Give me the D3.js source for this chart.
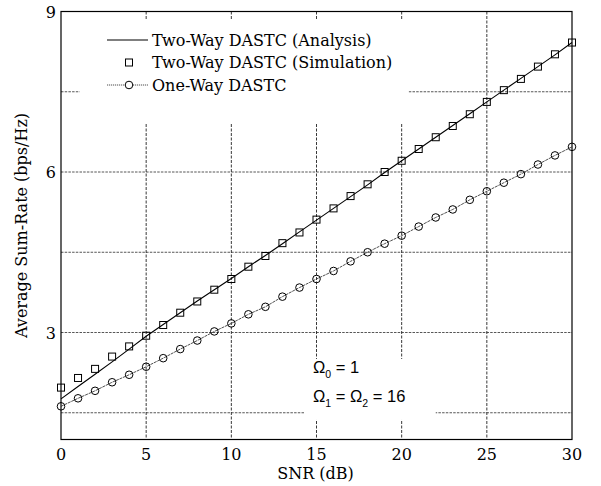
<!DOCTYPE html>
<html>
<head>
	<title>Average Sum-Rate</title>
	<script src="https://cdn.jsdelivr.net/npm/d3@7"></script>
	<style type="text/css">
		body { margin: 0; background: white; }
		.serif { font-family: 'DejaVu Serif', 'Liberation Serif', serif; }
	</style>
</head>
<body>

	<svg width=601 height=486 class="chart"></svg>

	<script type="text/javascript">

		// SNR in dB, one point per dB
		snr = d3.range(0, 31)

		twoWayAnalysis = [1.76, 1.99, 2.22, 2.45, 2.69, 2.93, 3.15, 3.37, 3.59, 3.80, 4.01,
			4.23, 4.44, 4.66, 4.88, 5.10, 5.32, 5.54, 5.76, 5.99, 6.21,
			6.43, 6.65, 6.87, 7.09, 7.31, 7.53, 7.75, 7.97, 8.19, 8.42]

		twoWaySim = [1.97, 2.15, 2.32, 2.55, 2.74, 2.94, 3.14, 3.37, 3.58, 3.80, 4.00,
			4.23, 4.43, 4.67, 4.87, 5.11, 5.32, 5.55, 5.77, 6.00, 6.21,
			6.43, 6.65, 6.86, 7.08, 7.31, 7.53, 7.74, 7.97, 8.20, 8.42]

		oneWay = [1.62, 1.77, 1.91, 2.07, 2.21, 2.36, 2.52, 2.69, 2.85, 3.02, 3.17,
			3.34, 3.48, 3.67, 3.84, 4.00, 4.15, 4.33, 4.50, 4.66, 4.81,
			4.98, 5.15, 5.30, 5.48, 5.64, 5.80, 5.96, 6.14, 6.31, 6.47]

		xTicks = [0, 5, 10, 15, 20, 25, 30]
		yTicks = [3, 6, 9]
		yGrid = [1.5, 3, 4.5, 6, 7.5]
		legendLabels = ['Two-Way DASTC (Analysis)', 'Two-Way DASTC (Simulation)', 'One-Way DASTC']

		margin = {'top': 11.5, 'right': 29, 'bottom': 46.5, 'left': 61}
		svg = d3.select('.chart')
		width = +svg.attr('width') - margin.left - margin.right
		height = +svg.attr('height') - margin.top - margin.bottom

		x = d3.scaleLinear().domain([0, 30]).range([0, width])
		y = d3.scaleLinear().domain([1, 9]).range([height, 0])

		g = svg.append('g')
			.attr('transform', 'translate(' + margin.left + ',' + margin.top + ')')

		// dashed grid
		g.selectAll('.hgrid')
			.data(yGrid)
			.enter()
			.append('line')
			.attr('x1', 0).attr('x2', width)
			.attr('y1', d => y(d)).attr('y2', d => y(d))
			.attr('stroke', '#444').attr('stroke-width', 0.9)
			.attr('stroke-dasharray', '2.5,1.2')

		g.selectAll('.vgrid')
			.data(xTicks.slice(1, -1))
			.enter()
			.append('line')
			.attr('y1', 0).attr('y2', height)
			.attr('x1', d => x(d)).attr('x2', d => x(d))
			.attr('stroke', '#222').attr('stroke-width', 0.9)
			.attr('stroke-dasharray', '3,1.5')

		// white boxes behind legend and annotation hide the grid there
		g.append('rect')
			.attr('x', x(1.1)).attr('y', 8.5)
			.attr('width', x(20.4) - x(1.1)).attr('height', 103)
			.attr('fill', 'white')

		g.append('rect')
			.attr('x', x(14.3)).attr('y', y(2.88) + 20)
			.attr('width', x(22) - x(14.3)).attr('height', 61)
			.attr('fill', 'white')

		// frame
		g.append('rect')
			.attr('width', width).attr('height', height)
			.attr('fill', 'none').attr('stroke', 'black').attr('stroke-width', 1.2)

		// axes labels
		g.selectAll('.xt')
			.data(xTicks)
			.enter()
			.append('text')
			.attr('class', 'serif')
			.attr('x', d => x(d)).attr('y', height + 20)
			.attr('text-anchor', 'middle')
			.attr('font-size', 16)
			.text(d => d)

		g.selectAll('.yt')
			.data(yTicks)
			.enter()
			.append('text')
			.attr('class', 'serif')
			.attr('x', -5).attr('y', d => y(d) + 6)
			.attr('text-anchor', 'end')
			.attr('font-size', 16)
			.text(d => d)

		svg.append('text')
			.attr('class', 'serif')
			.attr('x', margin.left + width / 2 - 1).attr('y', 479)
			.attr('text-anchor', 'middle')
			.attr('font-size', 16)
			.text('SNR (dB)')

		svg.append('text')
			.attr('class', 'serif')
			.attr('transform', 'translate(27,' + (margin.top + height / 2) + ') rotate(-90)')
			.attr('text-anchor', 'middle')
			.attr('font-size', 16)
			.text('Average Sum-Rate (bps/Hz)')

		// curves
		lineGen = d3.line()
			.x((d, i) => x(snr[i]))
			.y(d => y(d))

		g.append('path')
			.datum(oneWay)
			.attr('d', lineGen)
			.attr('fill', 'none').attr('stroke', '#222').attr('stroke-width', 0.8)
			.attr('stroke-dasharray', '3,0.8')

		g.append('path')
			.datum(twoWayAnalysis)
			.attr('d', lineGen)
			.attr('fill', 'none').attr('stroke', 'black').attr('stroke-width', 1.1)

		sq = 7
		g.selectAll('.sim')
			.data(twoWaySim)
			.enter()
			.append('rect')
			.attr('x', (d, i) => x(snr[i]) - sq / 2)
			.attr('y', d => y(d) - sq / 2)
			.attr('width', sq).attr('height', sq)
			.attr('fill', 'none').attr('stroke', 'black').attr('stroke-width', 1)

		g.selectAll('.one')
			.data(oneWay)
			.enter()
			.append('circle')
			.attr('cx', (d, i) => x(snr[i]))
			.attr('cy', d => y(d))
			.attr('r', 3.8)
			.attr('fill', 'none').attr('stroke', 'black').attr('stroke-width', 1)

		// legend
		lg = svg.append('g').attr('transform', 'translate(107,40)')
		rowH = 22.5

		lg.append('line')
			.attr('x1', 0).attr('x2', 41).attr('y1', 0).attr('y2', 0)
			.attr('stroke', 'black').attr('stroke-width', 1.1)

		lg.append('rect')
			.attr('x', 22 - 3.5).attr('y', rowH - 3.5)
			.attr('width', 7).attr('height', 7)
			.attr('fill', 'none').attr('stroke', 'black').attr('stroke-width', 1)

		lg.append('line')
			.attr('x1', 0).attr('x2', 41).attr('y1', 2 * rowH).attr('y2', 2 * rowH)
			.attr('stroke', '#222').attr('stroke-width', 0.8)
			.attr('stroke-dasharray', '1.2,0.8')

		lg.append('circle')
			.attr('cx', 22).attr('cy', 2 * rowH).attr('r', 3.8)
			.attr('fill', 'white').attr('stroke', 'black').attr('stroke-width', 1)

		lg.selectAll('.lt')
			.data(legendLabels)
			.enter()
			.append('text')
			.attr('class', 'serif')
			.attr('x', 45).attr('y', (d, i) => i * rowH + 5.5)
			.attr('font-size', 16)
			.text(d => d)

		// annotation
		annFont = "'Liberation Sans', Arial, sans-serif"
		ann = svg.append('text')
			.attr('font-family', annFont)
			.attr('font-size', 16.5)
			.attr('x', 313).attr('y', 373)
		ann.append('tspan').text('Ω')
		ann.append('tspan').attr('font-size', 10.5).attr('dy', 5).text('0')
		ann.append('tspan').attr('dy', -5).text(' = 1')

		ann2 = svg.append('text')
			.attr('font-family', annFont)
			.attr('font-size', 16.5)
			.attr('x', 313).attr('y', 402)
		ann2.append('tspan').text('Ω')
		ann2.append('tspan').attr('font-size', 10.5).attr('dy', 5).text('1')
		ann2.append('tspan').attr('dy', -5).text(' = Ω')
		ann2.append('tspan').attr('font-size', 10.5).attr('dy', 5).text('2')
		ann2.append('tspan').attr('dy', -5).text(' = 16')

	</script>

</body>
</html>
